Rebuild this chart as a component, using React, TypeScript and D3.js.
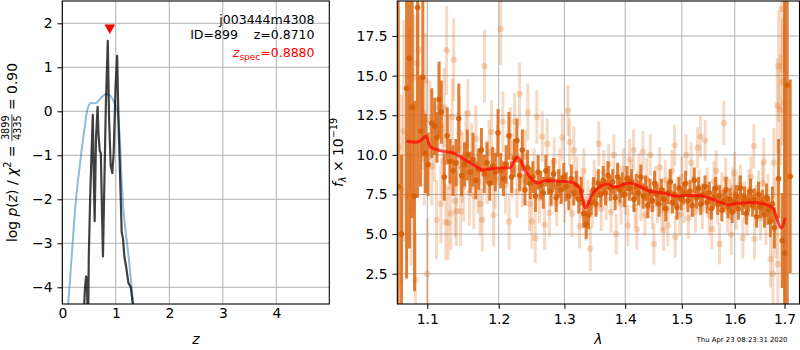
import { useEffect, useRef } from "react";
import * as d3 from "d3";

// redshift fit, left panel
const pzZ = [0.40, 0.425, 0.445, 0.46, 0.47, 0.485, 0.495, 0.52, 0.545, 0.57, 0.585, 0.605, 0.63, 0.66, 0.675, 0.70, 0.72, 0.74, 0.76, 0.785, 0.815, 0.85, 0.875, 0.905, 0.935, 0.96, 0.995, 1.025, 1.05, 1.085, 1.11, 1.135, 1.16, 1.195, 1.235, 1.28, 1.33];
const pzLog = [-4.6, -4.0, -3.75, -3.8, -4.5, -4.6, -3.3, -2.0, -1.0, -0.08, -1.3, -2.5, -0.6, 0.10, -0.5, -0.9, -0.95, -2.2, -3.3, -1.7, 0.2, 1.60, -0.2, -1.25, -1.4, -0.95, 0.55, 1.26, -0.2, -1.7, -2.75, -2.9, -3.3, -3.55, -3.9, -4.0, -4.5];
const priorZ = [0.09, 0.11, 0.18, 0.256, 0.34, 0.42, 0.48, 0.53, 0.60, 0.65, 0.72, 0.78, 0.84, 0.90, 0.97, 1.03, 1.07, 1.09, 1.11, 1.14, 1.18, 1.23, 1.28, 1.33];
const priorLog = [-4.6, -4.37, -3.22, -2.0, -1.1, -0.35, 0.09, 0.19, 0.18, 0.2, 0.3, 0.37, 0.39, 0.35, 0.2, 0.0, -0.5, -1.0, -1.6, -2.2, -2.7, -3.2, -3.8, -4.45];
const zSpec = 0.888;
const zFit = 0.871;
const objName = "j003444m4308";
const objId = 899;

const zTicks = [0, 1, 2, 3, 4];
const logTicks = [-4, -3, -2, -1, 0, 1, 2];

// spectrum, right panel (flux in 1e-19)
const darkWave = [1.0616, 1.0660, 1.0726, 1.0764, 1.0800, 1.0830, 1.0870, 1.0910, 1.0940, 1.0975,
  1.101, 1.106, 1.110, 1.113, 1.116, 1.119, 1.123, 1.127, 1.131, 1.135, 1.139, 1.143, 1.147, 1.151, 1.155, 1.159, 1.163, 1.167, 1.171, 1.175, 1.179, 1.183, 1.187, 1.191, 1.195, 1.199,
  1.203, 1.207, 1.211, 1.215, 1.219, 1.223, 1.227, 1.231, 1.235, 1.239, 1.243, 1.247, 1.251, 1.255, 1.259, 1.263, 1.267, 1.271, 1.275, 1.279, 1.283, 1.287, 1.291, 1.295, 1.299,
  1.303, 1.307, 1.311, 1.315, 1.319, 1.323, 1.327, 1.331, 1.335, 1.339, 1.343, 1.347, 1.351, 1.355, 1.359, 1.363, 1.367, 1.371, 1.375, 1.379, 1.383, 1.387, 1.391, 1.395, 1.399,
  1.403, 1.407, 1.411, 1.415, 1.419, 1.423, 1.427, 1.431, 1.435, 1.439, 1.443, 1.447, 1.451, 1.455, 1.459, 1.463, 1.467, 1.471, 1.475, 1.479, 1.483, 1.487, 1.491, 1.495, 1.499,
  1.503, 1.507, 1.511, 1.515, 1.519, 1.523, 1.527, 1.531, 1.535, 1.539, 1.543, 1.547, 1.551, 1.555, 1.559, 1.563, 1.567, 1.571, 1.575, 1.579, 1.583, 1.587, 1.591, 1.595, 1.599,
  1.603, 1.607, 1.611, 1.615, 1.619, 1.623, 1.627, 1.631, 1.635, 1.639, 1.643, 1.647, 1.651, 1.655, 1.659, 1.663, 1.667, 1.671, 1.675, 1.679, 1.6876, 1.6952, 1.7000, 1.7056, 1.7118];
const darkFlux = [8.0, 5.0, 14.2, 16.1, 13.0, 7.4, 19.3, 11.5, 14.9, 10.1,
  9.4, 12.0, 11.8, 11.1, 13.5, 12.7, 8.6, 11.2, 9.6, 9.0, 9.5, 12.3, 8.7, 9.4, 10.0, 8.9, 9.7, 8.4, 9.1, 10.3, 8.8, 9.5, 8.2, 9.3, 8.9, 11.4,
  9.0, 8.5, 9.4, 11.2, 8.6, 9.8, 10.9, 8.7, 10.3, 7.8, 9.2, 8.2, 8.6, 7.4, 8.9, 8.1, 7.6, 9.0, 8.4, 7.7, 8.8, 7.3, 8.2, 7.8, 8.6,
  8.0, 7.4, 8.5, 7.6, 8.1, 7.2, 7.7, 6.3, 5.6, 6.2, 7.0, 7.8, 6.9, 8.2, 7.5, 8.4, 7.6, 8.7, 7.9, 8.3, 7.3, 8.6, 7.8, 8.1, 7.5,
  8.5, 7.9, 8.3, 7.2, 8.0, 7.6, 8.6, 7.4, 7.9, 6.8, 7.7, 7.1, 8.2, 7.5, 6.9, 7.8, 7.2, 6.6, 7.6, 8.3, 7.0, 7.5, 6.7, 7.9, 7.2,
  7.6, 8.2, 7.1, 7.7, 6.8, 8.4, 7.3, 7.9, 6.9, 7.5, 8.0, 7.0, 7.6, 6.6, 7.3, 7.9, 6.9, 7.4, 6.5, 7.1, 7.8, 6.7, 7.2, 6.4, 7.0,
  7.4, 6.6, 7.9, 6.9, 7.3, 6.3, 7.1, 7.7, 6.8, 7.2, 6.1, 7.5, 6.7, 7.0, 6.2, 7.3, 6.5, 5.8, 6.9, 5.4, 8.5, 4.6, 3.8, 14.4, 8.65];
const darkErr = [12, 5.0, 12, 12, 7, 6, 12, 3.5, 5, 2.5,
  2.0, 2.2, 1.8, 1.6, 2.4, 2.0, 1.5, 1.8, 1.4, 1.6, 1.5, 2.2, 1.3, 1.4, 1.6, 1.3, 1.7, 1.2, 1.3, 1.4, 1.2, 1.3, 1.1, 1.2, 1.2, 1.5,
  1.1, 1.1, 1.2, 1.5, 1.0, 1.2, 1.4, 1.0, 1.3, 1.0, 1.1, 1.0, 1.0, 1.0, 1.1, 0.9, 1.0, 1.0, 0.9, 0.9, 1.0, 0.9, 0.9, 0.9, 0.9,
  0.9, 0.9, 0.9, 0.8, 0.9, 0.9, 0.9, 0.9, 0.9, 0.9, 0.8, 0.8, 0.8, 0.9, 0.8, 0.9, 0.8, 0.9, 0.8, 0.8, 0.8, 0.9, 0.8, 0.8, 0.8,
  0.8, 0.8, 0.8, 0.8, 0.8, 0.8, 0.8, 0.8, 0.8, 0.8, 0.8, 0.7, 0.8, 0.7, 0.8, 0.7, 0.7, 0.8, 0.7, 0.8, 0.7, 0.7, 0.8, 0.7, 0.7,
  0.7, 0.8, 0.7, 0.7, 0.7, 0.8, 0.7, 0.7, 0.7, 0.7, 0.7, 0.7, 0.7, 0.7, 0.7, 0.7, 0.7, 0.7, 0.7, 0.7, 0.8, 0.7, 0.7, 0.7, 0.7,
  0.7, 0.7, 0.8, 0.7, 0.7, 0.7, 0.7, 0.8, 0.7, 0.7, 0.7, 0.8, 0.7, 0.8, 0.8, 0.9, 0.9, 1.0, 1.1, 1.3, 2.5, 3.0, 16, 14, 6.1];

const lightWave = [1.0620, 1.0660, 1.0690, 1.0726, 1.0764, 1.0786, 1.0816, 1.0842, 1.0865, 1.0887, 1.0930, 1.0960, 1.0977, 1.1000,
  1.1035, 1.1060, 1.1094, 1.1125, 1.1150, 1.1183, 1.1210, 1.1229, 1.1250, 1.1262, 1.1283, 1.1300, 1.1319, 1.1340, 1.1360, 1.1380, 1.1397, 1.1420, 1.1442, 1.1456, 1.1480,
  1.1500, 1.1530, 1.1558, 1.1580, 1.1610, 1.1641, 1.1670, 1.1700, 1.1730, 1.1762, 1.1795, 1.1830, 1.1860, 1.1893, 1.1925, 1.1950, 1.1980,
  1.2027, 1.2061, 1.2100, 1.2152, 1.2170, 1.2200, 1.2234, 1.2270, 1.2309, 1.2350, 1.2390, 1.2434, 1.2460, 1.2495, 1.2530, 1.2546, 1.2570, 1.2610, 1.2654, 1.2690, 1.2730, 1.2767,
  1.2800, 1.2840, 1.2880, 1.2920, 1.2967, 1.3003, 1.3055, 1.3083, 1.3120, 1.3151, 1.3200, 1.3243, 1.3280, 1.3310, 1.3350, 1.3380, 1.3417, 1.3450, 1.3480, 1.3520, 1.3557,
  1.3597, 1.3640, 1.3680, 1.3720, 1.3760, 1.3808, 1.3848, 1.3890, 1.3930, 1.3970, 1.4010, 1.4046, 1.4075, 1.4110, 1.4143, 1.4170, 1.4200, 1.4240, 1.4270, 1.4305,
  1.4340, 1.4370, 1.4400, 1.4434, 1.4470, 1.4498, 1.4530, 1.4560, 1.4600, 1.4640, 1.4669, 1.4700, 1.4747, 1.4780, 1.4820, 1.4868, 1.4880, 1.4920, 1.4960, 1.5000,
  1.5040, 1.5080, 1.5120, 1.5173, 1.5210, 1.5250, 1.5290, 1.5320, 1.5346, 1.5380, 1.5434, 1.5470, 1.5510, 1.5559, 1.5600, 1.5643, 1.5670, 1.5706, 1.5750, 1.5788,
  1.5824, 1.5860, 1.5900, 1.5931, 1.5960, 1.5995, 1.6030, 1.6070, 1.6110, 1.6158, 1.6200, 1.6240, 1.6280, 1.6320, 1.6376, 1.6390, 1.6430, 1.6470, 1.6510, 1.6550,
  1.6577, 1.6620, 1.6660, 1.6713, 1.6760, 1.6780, 1.6820, 1.6850, 1.6862, 1.6876, 1.6917, 1.6937, 1.6957, 1.7000];
const lightFlux = [10.5, 7.8, 11.5, 7.4, 13.0, 6.5, 14.9, 2.1, 15.8, 16.6, 12.1, 9.8, 14.7, 2.5,
  12.2, 9.3, 10.8, 5.9, 13.0, 6.9, 9.6, 13.0, 5.75, 16.6, 5.7, 10.2, 6.3, 12.4, 16.0, 7.1, 6.45, 10.4, 11.4, 6.45, 9.2,
  8.0, 10.6, 12.6, 7.6, 9.9, 7.4, 11.0, 8.3, 6.9, 5.9, 15.6, 8.9, 10.2, 11.45, 6.2, 8.5, 10.0,
  17.95, 12.1, 8.1, 5.8, 11.2, 9.1, 12.1, 7.7, 13.85, 8.4, 9.9, 12.7, 6.9, 5.8, 8.8, 4.76, 12.4, 7.3, 11.15, 5.6, 10.7, 6.34,
  8.2, 9.6, 7.0, 8.9, 11.1, 7.22, 12.8, 10.8, 6.3, 10.3, 8.5, 5.5, 7.4, 9.0, 6.0, 7.0, 4.08, 6.8, 8.3, 7.6, 10.7,
  6.6, 8.9, 7.2, 9.4, 6.4, 10.0, 5.0, 8.1, 6.9, 9.1, 7.5, 5.55, 9.7, 8.4, 10.3, 6.7, 5.3, 8.8, 7.1, 10.2,
  6.2, 8.5, 7.3, 10.0, 6.6, 4.38, 8.0, 7.0, 9.2, 6.5, 5.24, 8.4, 5.55, 7.6, 9.0, 10.6, 4.82, 7.3, 6.2, 8.6,
  7.0, 10.0, 6.0, 9.5, 7.4, 6.4, 10.45, 7.8, 11.17, 6.6, 10.9, 7.9, 6.2, 5.33, 8.3, 9.0, 6.9, 4.38, 7.6, 12.0,
  8.5, 6.4, 7.2, 4.97, 7.9, 8.86, 6.6, 7.4, 8.1, 4.76, 7.0, 6.2, 7.8, 8.6, 10.54, 4.7, 6.8, 7.6, 6.0, 8.2,
  9.56, 5.8, 7.2, 3.43, 2.5, 9.5, 6.0, 13.1, 3.1, 15.6, 12.86, 19.2, 14.6, 13.3];
const lightErr = [9, 6, 7, 4, 5, 3.5, 4, 3, 3, 3, 3, 3, 3, 3.5,
  2.5, 2.5, 2.5, 2.5, 2.7, 2.5, 2.4, 2.5, 2.4, 2.8, 2.3, 2.4, 2.3, 2.4, 2.6, 2.3, 2.2, 2.3, 2.3, 2.2, 2.2,
  2.2, 2.2, 2.2, 2.1, 2.1, 2.1, 2.1, 2.0, 2.0, 2.0, 2.3, 2.0, 2.0, 2.0, 2.0, 1.9, 1.9,
  2.3, 1.9, 1.8, 1.8, 1.8, 1.8, 1.8, 1.7, 2.0, 1.7, 1.7, 1.8, 1.7, 1.7, 1.6, 1.6, 1.7, 1.6, 1.6, 1.6, 1.6, 1.5,
  1.5, 1.5, 1.5, 1.5, 1.5, 1.5, 1.6, 1.5, 1.5, 1.5, 1.4, 1.4, 1.4, 1.4, 1.4, 1.4, 1.4, 1.4, 1.4, 1.4, 1.4,
  1.4, 1.4, 1.3, 1.3, 1.3, 1.3, 1.3, 1.3, 1.3, 1.3, 1.3, 1.3, 1.3, 1.3, 1.3, 1.3, 1.3, 1.3, 1.3, 1.3,
  1.3, 1.3, 1.3, 1.3, 1.3, 1.3, 1.3, 1.3, 1.3, 1.3, 1.3, 1.3, 1.3, 1.3, 1.3, 1.3, 1.3, 1.3, 1.3, 1.3,
  1.3, 1.3, 1.3, 1.3, 1.3, 1.3, 1.3, 1.3, 1.3, 1.3, 1.3, 1.3, 1.3, 1.3, 1.3, 1.3, 1.3, 1.3, 1.3, 1.4,
  1.3, 1.3, 1.3, 1.3, 1.3, 1.3, 1.3, 1.3, 1.3, 1.3, 1.3, 1.3, 1.3, 1.3, 1.4, 1.3, 1.3, 1.4, 1.4, 1.4,
  1.5, 1.5, 1.6, 1.8, 2.2, 2.2, 2.5, 3, 3, 3.5, 3.5, 4, 4, 5];

const modelWave = [1.0726, 1.0857, 1.0924, 1.0984, 1.1035, 1.1125, 1.1262, 1.1376, 1.1493, 1.1634, 1.1771, 1.1965, 1.2160, 1.2279, 1.2410, 1.2587, 1.2705, 1.2956, 1.3083, 1.3243,
  1.3340, 1.3433, 1.3515, 1.3707, 1.3820, 1.4075, 1.4247, 1.4422, 1.4657, 1.4898, 1.5081, 1.5327, 1.5577, 1.5898, 1.6093, 1.6356, 1.6625, 1.6760, 1.6932, 1.7015];
const modelFlux = [10.86, 10.80, 10.95, 11.18, 10.54, 10.33, 10.19, 10.08, 9.75, 9.39, 9.05, 9.15, 9.18, 9.87, 8.9, 8.23, 8.38, 8.33, 8.3, 7.92,
  6.65, 7.39, 7.81, 8.17, 7.95, 8.23, 8.02, 7.70, 7.60, 7.39, 7.43, 7.43, 7.18, 6.86, 6.97, 7.00, 6.86, 6.65, 5.39, 6.02];

const waveTicks = [1.1, 1.2, 1.3, 1.4, 1.5, 1.6, 1.7];
const fluxTicks = [2.5, 5, 7.5, 10, 12.5, 15, 17.5];
const stamp = "Thu Apr 23 08:23:31 2020";

const FONT = "DejaVu Sans, sans-serif";
const FS = 13.9;

type Run = { t?: string; size?: number; italic?: boolean; dy?: number; num?: string; den?: string };

// lays out a mathtext-like row of runs, returns its width
function mathRow(g: any, runs: Run[], base: number, color: string) {
  let u = 0;
  runs.forEach((r) => {
    if (r.num) {
      const fs = base * 0.7;
      const a = g.append("text").attr("y", -base * 0.33 - 2.5).attr("font-size", fs).attr("fill", color).text(r.num);
      const b = g.append("text").attr("y", -base * 0.33 + fs * 0.75 + 1.5).attr("font-size", fs).attr("fill", color).text(r.den);
      const wa = a.node().getComputedTextLength();
      const wb = b.node().getComputedTextLength();
      const w = Math.max(wa, wb) + 2;
      a.attr("x", u + (w - wa) / 2);
      b.attr("x", u + (w - wb) / 2);
      g.append("line").attr("x1", u).attr("x2", u + w)
        .attr("y1", -base * 0.33).attr("y2", -base * 0.33)
        .attr("stroke", color).attr("stroke-width", 0.8);
      u += w;
    } else {
      const t = g.append("text").attr("x", u).attr("y", r.dy || 0)
        .attr("font-size", r.size || base)
        .attr("font-style", r.italic ? "italic" : null)
        .attr("fill", color)
        .style("white-space", "pre")
        .text(r.t);
      u += t.node().getComputedTextLength();
    }
  });
  return u;
}

export default function App() {
  const svgRef = useRef<SVGSVGElement>(null);

  useEffect(() => {
    if (!svgRef.current) return;
    const svg = d3.select(svgRef.current);
    svg.selectAll("*").remove();
    svg.attr("font-family", FONT);

    const top = 1, bottom = 304;

    // ---------- left panel: p(z)
    const xz = d3.scaleLinear().domain([0, 4.99]).range([62.3, 329.3]);
    const yz = d3.scaleLinear().domain([-4.38, 2.507]).range([bottom, top]);

    svg.append("clipPath").attr("id", "clipL").append("rect")
      .attr("x", 62.3).attr("y", top).attr("width", 267).attr("height", bottom - top);

    const L = svg.append("g");
    L.selectAll("line.gx").data(zTicks).join("line")
      .attr("x1", (d) => xz(d)).attr("x2", (d) => xz(d)).attr("y1", top).attr("y2", bottom)
      .attr("stroke", "#b0b0b0").attr("stroke-width", 1);
    L.selectAll("line.gy").data(logTicks).join("line")
      .attr("y1", (d) => yz(d)).attr("y2", (d) => yz(d)).attr("x1", 62.3).attr("x2", 329.3)
      .attr("stroke", "#b0b0b0").attr("stroke-width", 1);

    const prior = priorZ.map((z, i) => [z, priorLog[i]] as [number, number]);
    const pz = pzZ.map((z, i) => [z, pzLog[i]] as [number, number]);
    const lineZ = d3.line<[number, number]>().x((d) => xz(d[0])).y((d) => yz(d[1]));

    const LC = L.append("g").attr("clip-path", "url(#clipL)");
    LC.append("path").datum(prior)
      .attr("d", lineZ.curve(d3.curveCatmullRom.alpha(0.5)))
      .attr("fill", "none").attr("stroke", "#1f77b4").attr("stroke-opacity", 0.5).attr("stroke-width", 2);
    LC.append("path").datum(pz)
      .attr("d", d3.line<[number, number]>().x((d) => xz(d[0])).y((d) => yz(d[1])))
      .attr("fill", "none").attr("stroke", "#000").attr("stroke-opacity", 0.75).attr("stroke-width", 2.2)
      .attr("stroke-linejoin", "round");

    L.append("path")
      .attr("d", d3.symbol(d3.symbolTriangle, 50)())
      .attr("transform", `translate(${xz(zSpec)},${yz(1.9)}) rotate(180)`)
      .attr("fill", "red");

    L.append("rect").attr("x", 62.3).attr("y", top).attr("width", 267).attr("height", bottom - top)
      .attr("fill", "none").attr("stroke", "#000").attr("stroke-width", 1.1);

    const fmtMinus = (d: any) => (d < 0 ? "\u2212" + Math.abs(d) : String(d));
    L.append("g").attr("transform", `translate(0,${bottom})`)
      .call(d3.axisBottom(xz).tickValues(zTicks).tickSize(0).tickPadding(4.1).tickFormat(fmtMinus))
      .call((g) => g.select(".domain").remove())
      .attr("font-size", FS).attr("font-family", FONT);
    L.append("g").attr("transform", "translate(62.3,0)")
      .call(d3.axisLeft(yz).tickValues(logTicks).tickSize(4.9).tickPadding(4.9).tickFormat(fmtMinus))
      .call((g) => g.select(".domain").remove())
      .attr("font-size", FS).attr("font-family", FONT);

    // annotations
    const ann = [
      { runs: [{ t: objName }], y: 23.5, c: "#000" },
      { runs: [{ t: `ID=${objId}    z=${zFit.toFixed(4)}` }], y: 38.5, c: "#000" },
      { runs: [{ t: "z", italic: true }, { t: "spec", size: 9, dy: 2.8 }, { t: `=${zSpec.toFixed(4)}` }], y: 57, c: "red" },
    ];
    ann.forEach((a) => {
      const g = L.append("g");
      const w = mathRow(g, a.runs, 12.5, a.c);
      g.attr("transform", `translate(${314.5 - w},${a.y})`);
    });

    // y label, left
    {
      const g = svg.append("g");
      const w = mathRow(g, [
        { t: "log " }, { t: "p", italic: true }, { t: "(" }, { t: "z", italic: true }, { t: ") / " },
        { t: "\u03c7", italic: true }, { t: "2", size: 9.7, dy: -5.5 }, { t: " = " },
        { num: String(3899), den: String(4335) }, { t: " = " + (3899 / 4335).toFixed(2) },
      ], FS, "#000");
      g.attr("transform", `translate(16.5,${152.5 + w / 2}) rotate(-90)`);
    }
    {
      const g = svg.append("g");
      const w = mathRow(g, [{ t: "z", italic: true }], FS, "#000");
      g.attr("transform", `translate(${195.8 - w / 2},344)`);
    }

    // ---------- right panel: spectrum
    const xw = d3.scaleLog().domain([1.0605, 1.7313]).range([397.3, 799.5]);
    const yf = d3.scaleLinear().domain([0.59, 19.71]).range([bottom, top]);

    svg.append("clipPath").attr("id", "clipR").append("rect")
      .attr("x", 397.3).attr("y", top).attr("width", 402.2).attr("height", bottom - top);

    const R = svg.append("g");
    R.selectAll("line.gx").data(waveTicks).join("line")
      .attr("x1", (d) => xw(d)).attr("x2", (d) => xw(d)).attr("y1", top).attr("y2", bottom)
      .attr("stroke", "#b0b0b0").attr("stroke-width", 1);
    R.selectAll("line.gy").data(fluxTicks).join("line")
      .attr("y1", (d) => yf(d)).attr("y2", (d) => yf(d)).attr("x1", 397.3).attr("x2", 799.5)
      .attr("stroke", "#b0b0b0").attr("stroke-width", 1);

    const RC = R.append("g").attr("clip-path", "url(#clipR)");
    const orange = "#dc6a16";

    const light = lightWave.map((w, i) => ({ w, f: lightFlux[i], e: lightErr[i] }));
    const dark = darkWave.map((w, i) => ({ w, f: darkFlux[i], e: darkErr[i] }));

    const lg = RC.append("g");
    lg.selectAll("line").data(light).join("line")
      .attr("x1", (d) => xw(d.w)).attr("x2", (d) => xw(d.w))
      .attr("y1", (d) => yf(d.f - d.e)).attr("y2", (d) => yf(d.f + d.e))
      .attr("stroke", orange).attr("stroke-opacity", 0.25).attr("stroke-width", 3);
    lg.selectAll("circle").data(light).join("circle")
      .attr("cx", (d) => xw(d.w)).attr("cy", (d) => yf(d.f)).attr("r", 3.2)
      .attr("fill", orange).attr("fill-opacity", 0.25);

    const dg = RC.append("g");
    dg.selectAll("line").data(dark).join("line")
      .attr("x1", (d) => xw(d.w)).attr("x2", (d) => xw(d.w))
      .attr("y1", (d) => yf(d.f - d.e)).attr("y2", (d) => yf(d.f + d.e))
      .attr("stroke", orange).attr("stroke-opacity", 0.85).attr("stroke-width", 3);
    dg.selectAll("circle").data(dark).join("circle")
      .attr("cx", (d) => xw(d.w)).attr("cy", (d) => yf(d.f)).attr("r", 2.8)
      .attr("fill", "#d65f08").attr("fill-opacity", 0.9);

    const model = modelWave.map((w, i) => [w, modelFlux[i]] as [number, number]);
    RC.append("path").datum(model)
      .attr("d", d3.line<[number, number]>().x((d) => xw(d[0])).y((d) => yf(d[1])).curve(d3.curveMonotoneX))
      .attr("fill", "none").attr("stroke", "red").attr("stroke-opacity", 0.7).attr("stroke-width", 3);

    R.append("rect").attr("x", 397.3).attr("y", top).attr("width", 402.2).attr("height", bottom - top)
      .attr("fill", "none").attr("stroke", "#000").attr("stroke-width", 1.1);

    R.append("g").attr("transform", `translate(0,${bottom})`)
      .call(d3.axisBottom(xw).tickValues(waveTicks).tickSize(4.9).tickPadding(5.2).tickFormat(d3.format(".1f")))
      .call((g) => g.select(".domain").remove())
      .attr("font-size", FS).attr("font-family", FONT);
    R.append("g").attr("transform", "translate(397.3,0)")
      .call(d3.axisLeft(yf).tickValues(fluxTicks).tickSize(4.9).tickPadding(4.9).tickFormat(d3.format(".1f")))
      .call((g) => g.select(".domain").remove())
      .attr("font-size", FS).attr("font-family", FONT);

    {
      const g = svg.append("g");
      const w = mathRow(g, [
        { t: "f", italic: true }, { t: "\u03bb", italic: true, size: 9.7, dy: 3 },
        { t: " \u00d7 10" }, { t: "\u221219", size: 9.7, dy: -5.5 },
      ], FS, "#000");
      g.attr("transform", `translate(342.5,${152.5 + w / 2}) rotate(-90)`);
    }
    {
      const g = svg.append("g");
      const w = mathRow(g, [{ t: "\u03bb", italic: true }], FS, "#000");
      g.attr("transform", `translate(${598.4 - w / 2},344)`);
    }

    svg.append("text").attr("x", 787.5).attr("y", 341.5).attr("text-anchor", "end")
      .attr("font-size", 6.9).attr("fill", "#000").text(stamp);
  }, []);

  return (
    <svg
      ref={svgRef}
      width={800}
      height={350}
      style={{ position: "absolute", left: 0, top: 0, background: "#fff" }}
    />
  );
}
